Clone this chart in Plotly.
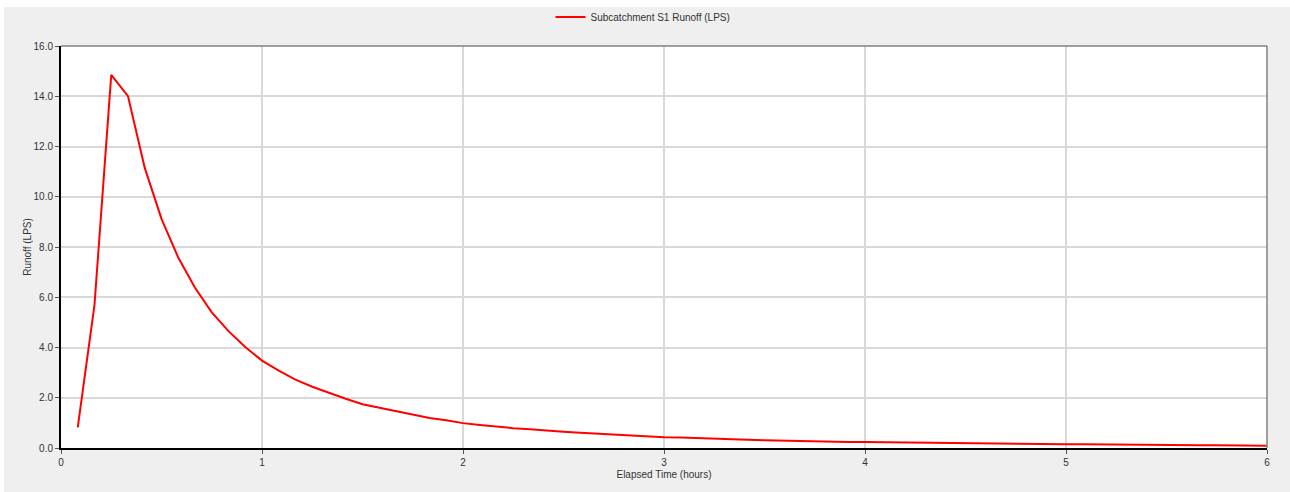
import plotly.graph_objects as go

# Elapsed time (hours), 5-minute steps
time_hours = [k / 12 for k in range(1, 73)]
runoff_lps = [
    0.82, 5.70, 14.85, 14.00, 11.15, 9.12, 7.58, 6.38, 5.40, 4.65, 4.02, 3.48,
    3.08, 2.72, 2.44, 2.19, 1.96, 1.74, 1.60, 1.45, 1.30, 1.19, 1.10, 0.99,
    0.92, 0.85, 0.79, 0.75, 0.69, 0.65, 0.61, 0.57, 0.53, 0.50, 0.47, 0.43,
    0.42, 0.39, 0.36, 0.35, 0.33, 0.31, 0.29, 0.28, 0.27, 0.26, 0.24, 0.24,
    0.23, 0.22, 0.22, 0.21, 0.20, 0.19, 0.18, 0.17, 0.17, 0.16, 0.16, 0.15,
    0.15, 0.14, 0.14, 0.13, 0.13, 0.12, 0.12, 0.11, 0.11, 0.10, 0.10, 0.09,
]
x_ticks = [0, 1, 2, 3, 4, 5, 6]
y_ticks = [0, 2, 4, 6, 8, 10, 12, 14, 16]
series_name = "Subcatchment S1 Runoff (LPS)"

font = "Liberation Sans, Arial, sans-serif"

fig = go.Figure()
fig.add_trace(go.Scatter(
    x=time_hours, y=runoff_lps, mode="lines", name=series_name,
    line=dict(color="#ff0000", width=2),
))

L, R, T, B = 61, 23, 46, 44
W, H = 1290, 492
pw, ph = W - L - R, H - T - B

fig.update_layout(
    width=W, height=H,
    margin=dict(l=L, r=R, t=T, b=B, autoexpand=False),
    paper_bgcolor="#efefef",
    plot_bgcolor="#ffffff",
    font=dict(family=font, size=11, color="#333333"),
    showlegend=True,
    legend=dict(orientation="h", x=(643 - L) / pw, xanchor="center",
                yref="container", y=1 - 17 / H, yanchor="middle",
                bgcolor="rgba(0,0,0,0)", font=dict(size=10, color="#333333")),
    xaxis=dict(range=[0, 6], tickvals=x_ticks, ticktext=[str(v) for v in x_ticks],
               showgrid=True, gridcolor="#d9d9d9", gridwidth=1.5,
               showline=True, linecolor="#000000", linewidth=2,
               ticks="outside", ticklen=4, tickcolor="#555555",
               zeroline=False,
               title=dict(text="Elapsed Time (hours)", standoff=4, font=dict(size=10)),
               tickfont=dict(size=10)),
    yaxis=dict(range=[0, 16], tickvals=y_ticks, tickformat=".1f",
               showgrid=True, gridcolor="#d9d9d9", gridwidth=1.5,
               showline=True, linecolor="#000000", linewidth=2,
               ticks="outside", ticklen=4, tickcolor="#555555",
               zeroline=False,
               title=dict(text="Runoff (LPS)", standoff=0, font=dict(size=10)),
               tickfont=dict(size=10)),
    shapes=[
        dict(type="line", xref="paper", yref="paper", x0=0, x1=1, y0=1, y1=1,
             line=dict(color="#808080", width=1.5), layer="above"),
        dict(type="line", xref="paper", yref="paper", x0=1, x1=1, y0=0, y1=1,
             line=dict(color="#808080", width=1.5), layer="above"),
        dict(type="rect", xref="paper", yref="paper",
             x0=-L / pw - 0.01, x1=1 + R / pw + 0.01,
             y0=1 + (T - 7) / ph, y1=1 + T / ph + 0.01,
             line=dict(width=0), fillcolor="#ffffff", layer="below"),
        dict(type="rect", xref="paper", yref="paper",
             x0=-L / pw - 0.01, x1=-(L - 4) / pw,
             y0=-B / ph - 0.01, y1=1 + T / ph + 0.01,
             line=dict(width=0), fillcolor="#ffffff", layer="below"),
    ],
)

fig.write_html("out.html", config={"displayModeBar": False},
               post_script="document.body.style.margin='0';")
